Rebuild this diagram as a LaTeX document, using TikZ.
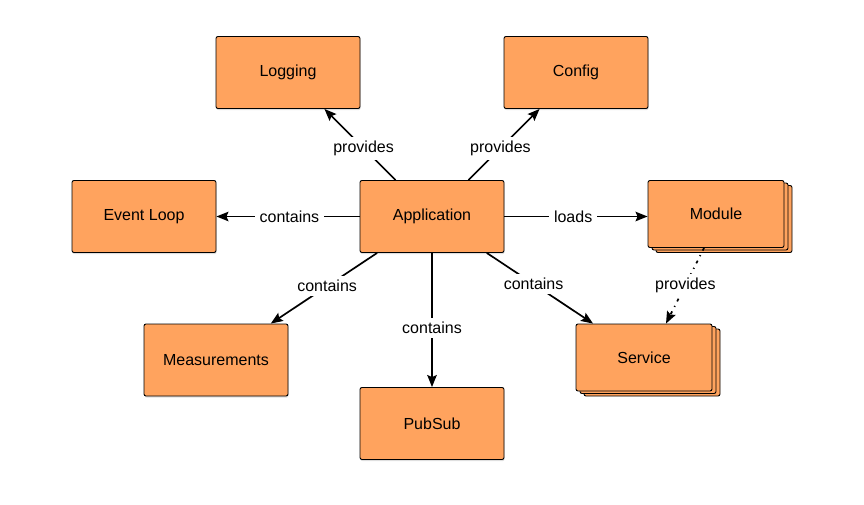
\documentclass[tikz,border=0pt]{standalone}
\usepackage{fontspec}
\setmainfont{Liberation Sans}
\usetikzlibrary{arrows.meta,shadows}
\definecolor{boxfill}{RGB}{255,163,94}
\tikzset{
  box/.style={draw=black, line width=0.9pt, fill=boxfill, rounded corners=2pt,
    minimum width=144pt, minimum height=72pt, inner sep=0pt,
    font=\fontsize{16}{19}\selectfont,
    drop shadow={shadow xshift=0.6pt, shadow yshift=-1.6pt, opacity=0.25}},
  stackbox/.style={draw=black, line width=0.9pt, fill=boxfill, rounded corners=2pt,
    minimum width=136pt, minimum height=67pt, inner sep=0pt,
    font=\fontsize{16}{19}\selectfont,
    double copy shadow={shadow xshift=4pt, shadow yshift=-2.5pt, fill=boxfill, draw=black, line width=0.9pt}},
  conn/.style={line width=1.7pt, -{Stealth[length=12pt,width=9.5pt,inset=2pt]}},
  dconn/.style={conn, dash pattern=on 3pt off 5pt on 1.2pt off 5pt},
  lbl/.style={fill=white, inner xsep=5pt, inner ysep=4pt, font=\fontsize{16}{19}\selectfont}
}
\begin{document}
\begin{tikzpicture}[x=1pt,y=-1pt]
\useasboundingbox (0,0) rectangle (864,504);
\node[box] (logging) at (288,72.5) {Logging};
\node[box] (config) at (576,72.5) {Config};
\node[box] (eventloop) at (144,216.5) {Event Loop};
\node[box] (app) at (432,216.5) {Application};
\node[box] (meas) at (216,360) {Measurements};
\node[box] (pubsub) at (432,423.5) {PubSub};
\node[stackbox] (module) at (716,214) {Module};
\node[stackbox] (service) at (644,357.5) {Service};

\draw[conn] (app) -- node[lbl,pos=0.45]{provides} (logging);
\draw[conn] (app) -- node[lbl,pos=0.45]{provides} (config);
\draw[conn] (app) -- node[lbl,pos=0.49]{contains} (eventloop);
\draw[conn] (app) -- node[lbl,pos=0.48]{loads} (app -| module.west);
\draw[conn] (app) -- node[lbl,pos=0.47]{contains} (meas);
\draw[conn] (app) -- node[lbl,pos=0.56]{contains} (pubsub);
\draw[conn] (app) -- node[lbl,pos=0.44]{contains} (service);
\draw[dconn] ([xshift=-12pt]module.south) -- node[lbl,pos=0.49]{provides} ([xshift=22pt]service.north);
\end{tikzpicture}
\end{document}
